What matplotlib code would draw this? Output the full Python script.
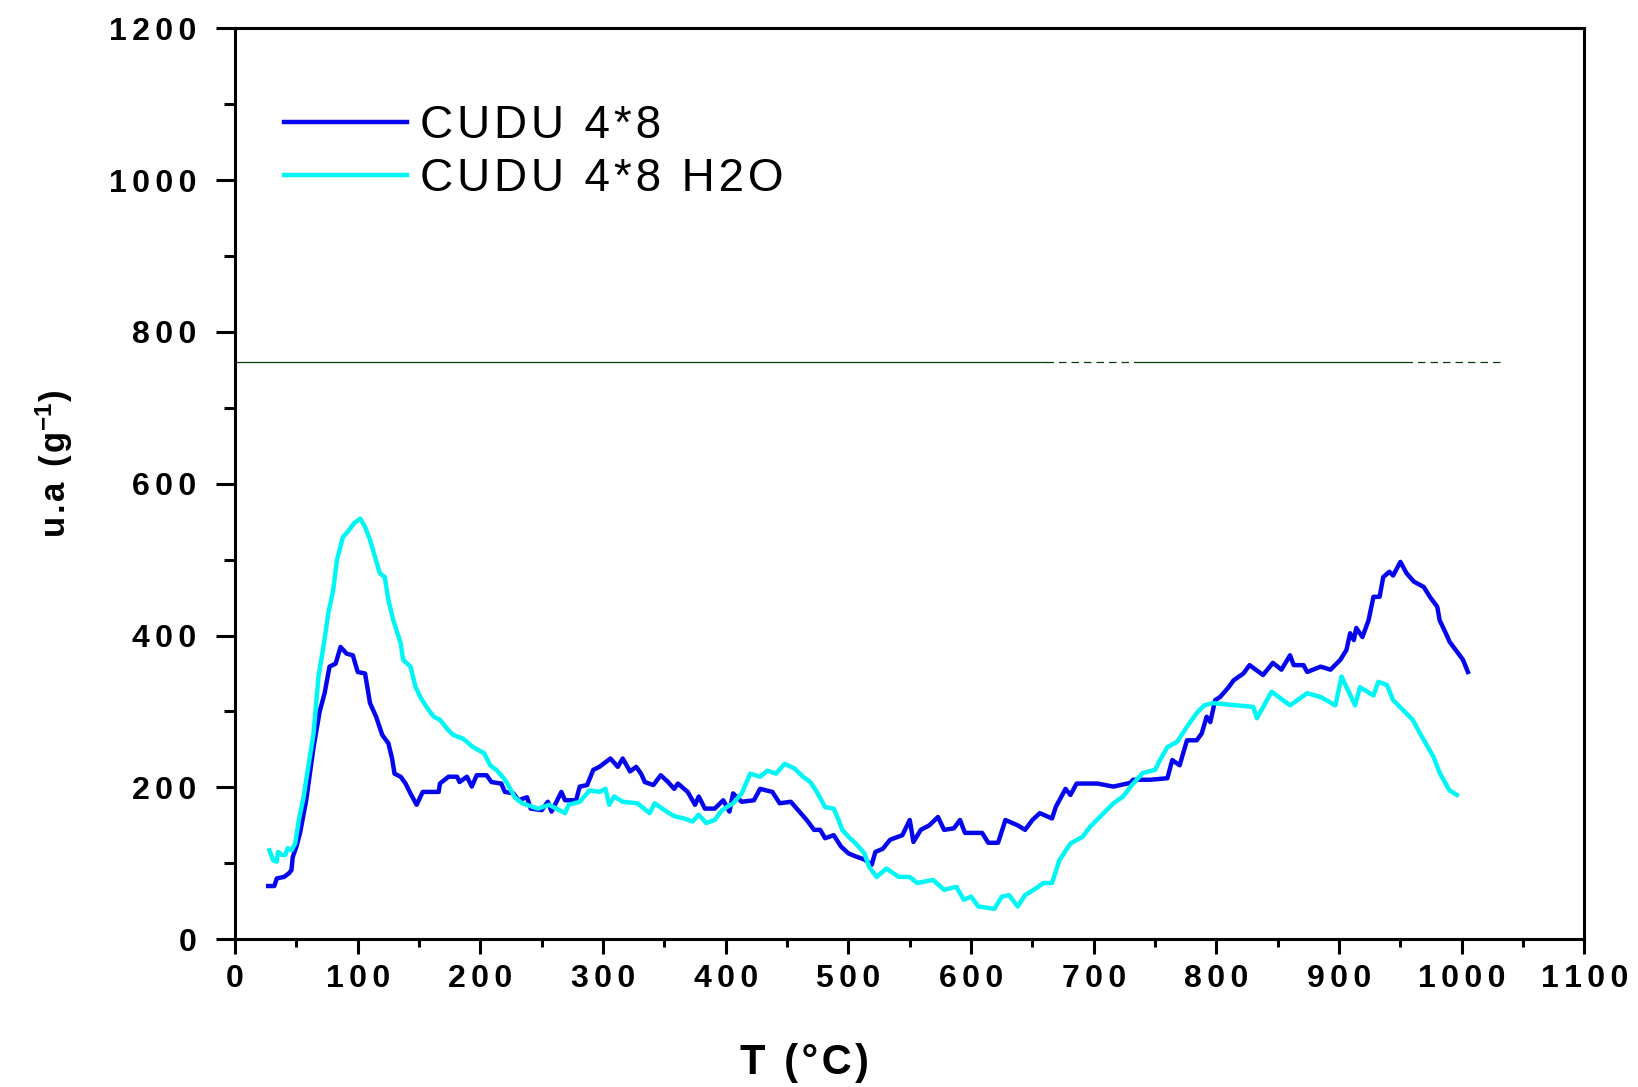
import numpy as np
import matplotlib
matplotlib.use("Agg")
import matplotlib.pyplot as plt

plt.rcParams["font.family"] = ["Liberation Sans", "DejaVu Sans"]
plt.rcParams["mathtext.fontset"] = "custom"
plt.rcParams["mathtext.default"] = "regular"

# CUDU 4*8 (blue)
t_dry = [27, 32, 34, 40, 44, 46, 47, 50, 53, 58, 64, 69, 73, 77, 82, 86, 91, 96, 100, 106,
         110, 115, 120, 125, 128, 130, 135, 139, 143, 148, 153, 166, 167, 174, 181, 183, 189,
         193, 197, 205, 209, 217, 220, 227, 231, 238, 241, 250, 255, 258, 266, 269, 278, 281,
         287, 292, 297, 306, 312, 316, 322, 327, 331, 334, 341, 347, 353, 358, 361, 369, 375,
         378, 383, 391, 398, 403, 406, 413, 423, 428, 438, 444, 453, 459, 466, 472, 477, 481,
         488, 494, 500, 506, 513, 519, 522, 528, 534, 544, 550, 553, 559, 566, 573, 578, 586,
         591, 595, 609, 614, 622, 628, 638, 644, 650, 656, 666, 669, 677, 681, 686, 703, 716,
         730, 732, 746, 760, 764, 770, 776, 784, 788, 792, 795, 799, 803, 810, 814, 822, 827,
         838, 846, 853, 860, 863, 871, 874, 885, 893, 901, 906, 909, 912, 914, 919, 924, 928,
         933, 936, 941, 944, 950, 955, 961, 969, 974, 980, 982, 987, 990, 996, 1001, 1005]
ua_dry = [70, 70, 80, 82, 87, 91, 108, 122, 140, 183, 253, 300, 324, 359, 363, 385, 376, 374,
          352, 350, 311, 293, 269, 258, 238, 218, 214, 205, 192, 177, 194, 194, 205, 214, 214,
          207, 214, 201, 216, 216, 207, 205, 194, 192, 183, 187, 172, 170, 181, 168, 194, 183,
          183, 201, 203, 223, 227, 238, 227, 238, 221, 227, 218, 207, 203, 216, 207, 198, 205,
          194, 177, 188, 172, 172, 183, 168, 192, 181, 183, 198, 194, 179, 181, 170, 157, 144,
          144, 133, 137, 122, 113, 109, 105, 98, 115, 119, 131, 137, 157, 128, 144, 150, 161,
          144, 146, 157, 140, 140, 127, 127, 157, 150, 144, 157, 166, 159, 174, 198, 190, 205,
          205, 201, 206, 210, 210, 212, 236, 229, 262, 262, 271, 293, 286, 315, 319, 332, 341,
          350, 361, 348, 364, 355, 374, 361, 361, 352, 359, 355, 368, 381, 403, 394, 410, 398,
          420, 451, 451, 477, 484, 479, 497, 482, 471, 464, 451, 438, 420, 403, 392, 379, 368,
          352]

# CUDU 4*8 H2O (cyan)
t_wet = [28, 31, 34, 35, 38, 41, 43, 46, 49, 52, 56, 58, 64, 68, 72, 76, 80, 83, 88, 92, 97,
         102, 106, 110, 114, 118, 122, 125, 129, 135, 137, 143, 147, 151, 156, 162, 167, 174,
         178, 186, 194, 203, 208, 213, 219, 222, 228, 234, 247, 256, 269, 272, 281, 289, 297,
         302, 305, 309, 316, 328, 338, 342, 350, 358, 366, 373, 378, 384, 391, 397, 406, 413,
         420, 428, 434, 441, 448, 456, 463, 469, 475, 481, 488, 492, 495, 500, 506, 513, 517,
         523, 531, 541, 550, 556, 569, 578, 588, 594, 600, 606, 619, 625, 631, 638, 644, 653,
         659, 666, 672, 681, 691, 697, 705, 716, 724, 730, 740, 750, 754, 760, 768, 776, 784,
         790, 797, 830, 833, 845, 860, 874, 885, 897, 902, 913, 917, 928, 932, 939, 944, 960,
         966, 977, 982, 990, 996]
ua_wet = [117, 104, 102, 115, 111, 111, 120, 117, 126, 157, 188, 210, 271, 346, 385, 429, 460,
          499, 530, 537, 548, 554, 543, 526, 504, 482, 477, 447, 420, 390, 368, 359, 333, 319,
          306, 293, 289, 275, 269, 264, 253, 245, 229, 223, 212, 205, 187, 179, 172, 177, 166,
          177, 181, 196, 194, 198, 177, 188, 181, 179, 166, 179, 170, 162, 159, 155, 164, 153,
          157, 170, 179, 192, 218, 214, 222, 218, 231, 225, 214, 207, 192, 174, 172, 157, 144,
          135, 126, 113, 95, 82, 93, 82, 82, 74, 78, 65, 69, 52, 56, 43, 40, 56, 58, 43, 58,
          67, 74, 74, 104, 126, 135, 148, 161, 179, 188, 201, 219, 223, 236, 253, 260, 280,
          298, 308, 311, 306, 291, 326, 308, 324, 319, 308, 346, 308, 332, 321, 339, 335, 315,
          289, 271, 240, 219, 196, 190]

# reference line at 760, solid / dashed pieces
ref_level = 760
ref_breaks = [0, 661, 736, 954, 1032]
ref_styles = ["-", "--", "-", "--"]

labels = ["CUDU 4*8", "CUDU 4*8 H2O"]
x_ticks = list(range(0, 1101, 100))
y_ticks = list(range(0, 1201, 200))

HAIR = "\u200a"   # small tracking for legend / axis titles
SIXTH = "\u2006"  # wider tracking for tick labels


def spaced(s, sep=HAIR):
    return sep.join(s)


fig = plt.figure(figsize=(16.38, 10.87), dpi=100)
ax = fig.add_axes([0.1435, 0.136, 0.8238, 0.838])

ax.plot(t_dry, ua_dry, color="#0505ee", lw=3.2, label=spaced(labels[0]))
ax.plot(t_wet, ua_wet, color="#00f5f5", lw=3.2, label=spaced(labels[1]))

for i, ls in enumerate(ref_styles):
    ax.plot(ref_breaks[i:i + 2], [ref_level, ref_level], color="#0b3d0b",
            lw=0.9, ls=ls, dashes=(6, 4) if ls == "--" else (None, None))

ax.set_xlim(0, 1100)
ax.set_ylim(0, 1200)
ax.set_xticks(x_ticks)
ax.set_xticklabels([spaced(str(v), SIXTH) for v in x_ticks])
ax.set_yticks(y_ticks)
ax.set_yticklabels([spaced(str(v), SIXTH) for v in y_ticks])
ax.set_xticks(np.arange(50, 1100, 100), minor=True)
ax.set_yticks(np.arange(100, 1200, 200), minor=True)

for sp in ax.spines.values():
    sp.set_linewidth(2.2)
ax.tick_params(axis="x", which="major", direction="out", length=11, width=2.2, pad=7)
ax.tick_params(axis="x", which="minor", direction="out", length=6, width=2.2)
ax.tick_params(axis="y", which="major", direction="out", length=14, width=2.2, pad=14)
ax.tick_params(axis="y", which="minor", direction="out", length=8, width=2.2)
for lab in ax.get_xticklabels() + ax.get_yticklabels():
    lab.set_fontsize(23)
    lab.set_fontweight("bold")

fig.text(0.491, 0.022, spaced("T (°C)"), fontsize=30, fontweight="bold",
         ha="center", va="center")
fig.text(0.033, 0.573, spaced("u.a (g") + "$^{-1}$" + ")", fontsize=25,
         fontweight="bold", rotation=90, ha="center", va="center")

ax.legend(loc="upper left", bbox_to_anchor=(0.0364, 0.9165), frameon=False,
          fontsize=33, handlelength=2.67, handletextpad=0.3, borderpad=0,
          borderaxespad=0, labelspacing=0.185)

fig.savefig("out.png", dpi=100)
